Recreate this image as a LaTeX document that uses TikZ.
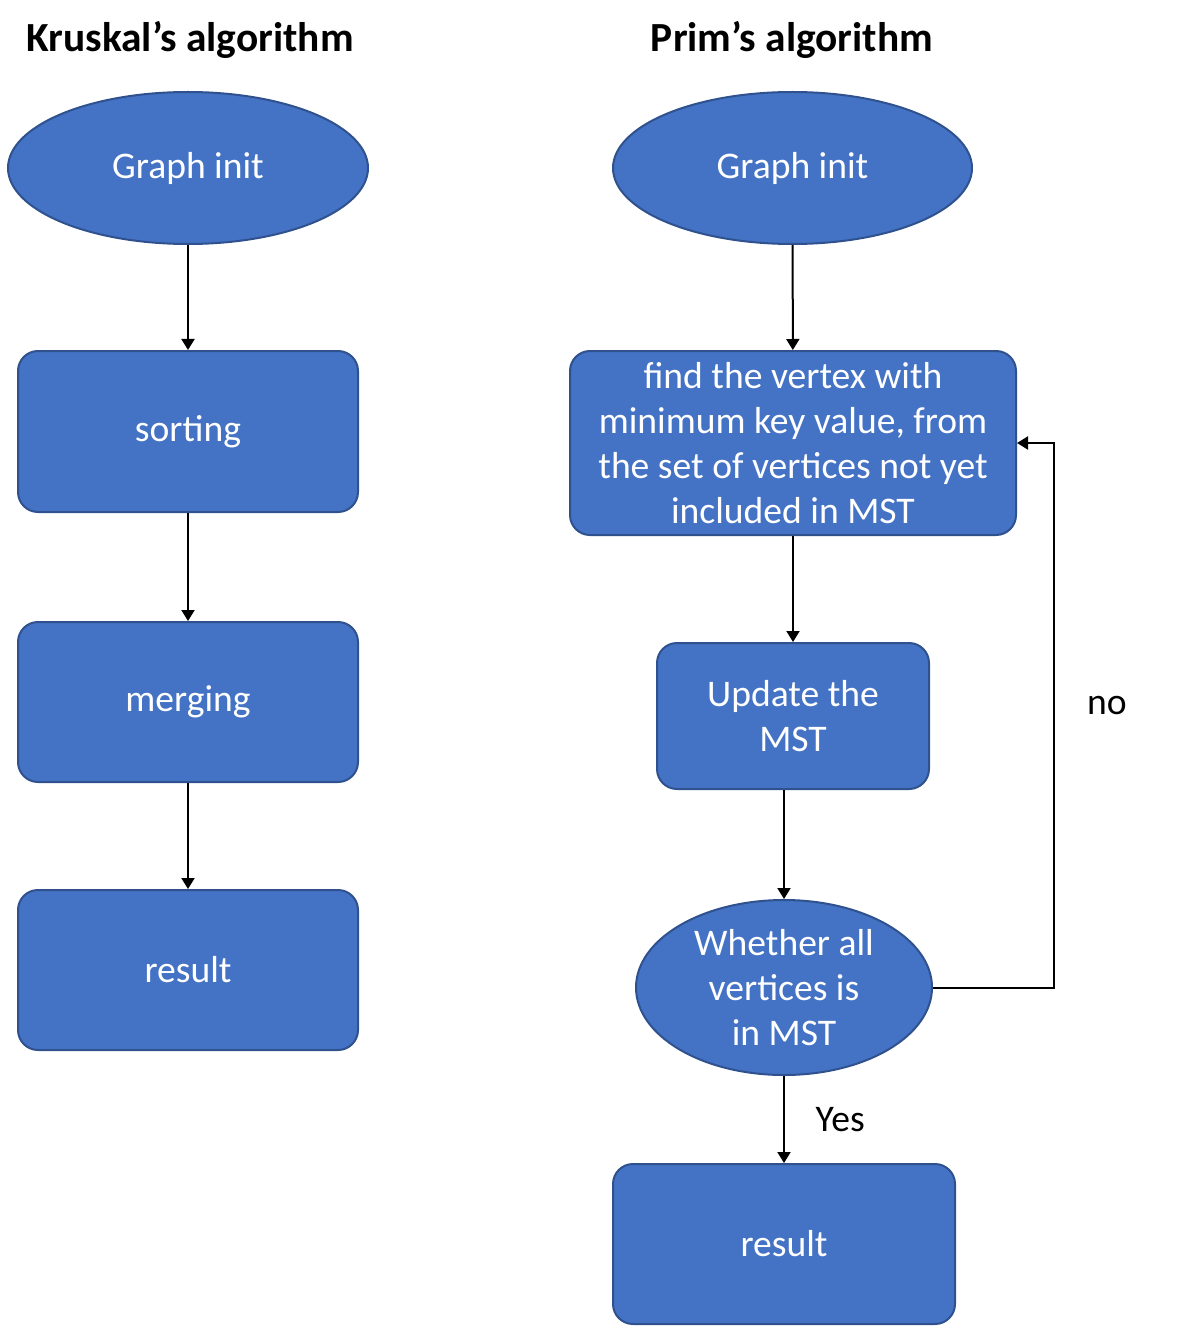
\documentclass[tikz,border=0pt]{standalone}
\usepackage{fontspec}
\setmainfont{Carlito}
\usetikzlibrary{positioning,arrows.meta,shapes.geometric}
\definecolor{boxblue}{HTML}{4472C4}
\definecolor{boxedge}{HTML}{2F528F}
\tikzset{
  txt/.style={font=\fontsize{18.8}{22.5}\selectfont},
  ttl/.style={font=\fontsize{20.7}{24}\selectfont\bfseries},
  blk/.style={txt,draw=boxedge,line width=1pt,fill=boxblue,text=white,
    rounded corners=10pt,inner sep=0pt,align=center},
  oval/.style={txt,ellipse,draw=boxedge,line width=1pt,fill=boxblue,
    text=white,inner sep=0pt,align=center},
  arr/.style={line width=1pt,-{Triangle[length=5.5pt,width=6.5pt]}},
}
\begin{document}
\begin{tikzpicture}[x=0.5pt,y=-0.5pt]
  \useasboundingbox (0,0) rectangle (1181,1326);
  % Titles
  \node[ttl] (ktitle) at (190,40) {Kruskal’s algorithm};
  \node[ttl] (ptitle) at (792,40) {Prim’s algorithm};
  % Kruskal column
  \node[oval,minimum width=180pt,minimum height=76pt] (kgraph) at (188,168) {Graph init};
  \node[blk,minimum width=170pt,minimum height=80.5pt] (ksort) at (188,431.5) {sorting};
  \node[blk,minimum width=170pt,minimum height=80pt] (kmerge) at (188,702) {merging};
  \node[blk,minimum width=170pt,minimum height=80pt] (kres) at (188,970) {result};
  \draw[arr] (kgraph) -- (ksort);
  \draw[arr] (ksort) -- (kmerge);
  \draw[arr] (kmerge) -- (kres);
  % Prim column
  \node[oval,minimum width=179.5pt,minimum height=76pt] (pgraph) at (792.5,168) {Graph init};
  \node[blk,minimum width=223pt,minimum height=92pt] (pfind) at (793,443)
    {find the vertex with\\minimum key value, from\\the set of vertices not yet\\included in MST};
  \node[blk,minimum width=136pt,minimum height=73pt] (pupd) at (793,716) {Update the\\MST};
  \node[oval,minimum width=148pt,minimum height=87.5pt] (pdec) at (784,987.5)
    {Whether all\\vertices is\\in MST};
  \node[blk,minimum width=171pt,minimum height=80pt] (pres) at (784,1244) {result};
  \draw[arr] (pgraph) -- (pfind);
  \draw[arr] (pfind) -- (pupd);
  \draw[arr] (pupd.south -| pdec.north) -- (pdec.north);
  \draw[arr] (pdec) -- node[txt,right=12pt] (yes) {Yes} (pres);
  \draw[arr] (pdec.east) -- ++(121,0) coordinate (loop) |- (pfind.east);
  \node[txt] (no) at (1107,706) {no};
\end{tikzpicture}
\end{document}
